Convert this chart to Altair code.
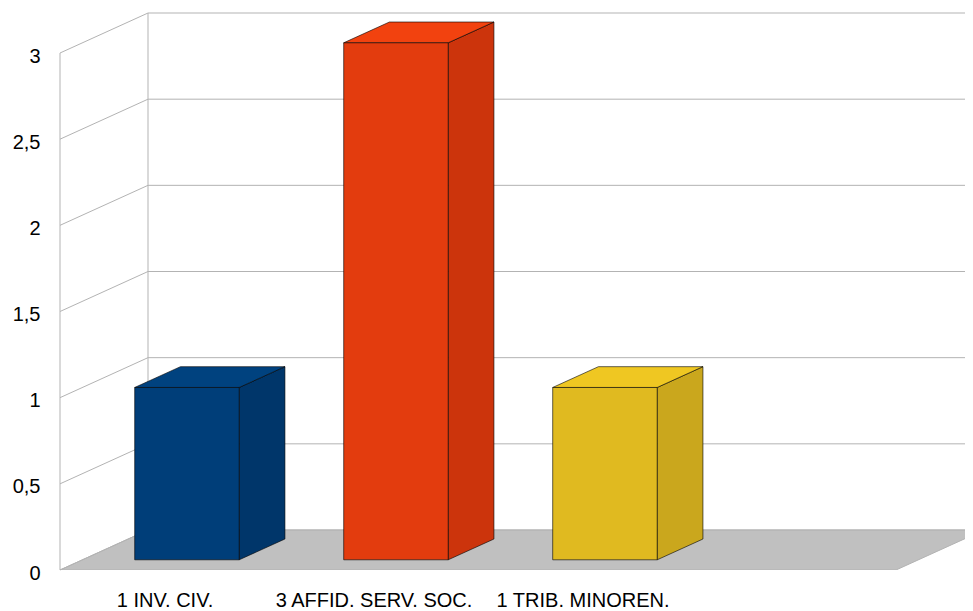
import json
import altair as alt
import pandas as pd

# ---- data ----
categories = ["1 INV. CIV.", "3 AFFID. SERV. SOC.", "1 TRIB. MINOREN."]
values = [1, 3, 1]
y_ticks = [0, 0.5, 1, 1.5, 2, 2.5, 3]
n_slots = 4  # the category axis has room for four slots (last one empty)

# ---- colours (front / side / top faces) ----
front_colors = ["#003e79", "#e33c0e", "#e0ba20"]
side_colors = ["#00366a", "#cc340c", "#caa71d"]
top_colors = ["#00427f", "#f2420f", "#efc722"]
grid_color = "#b3b3b3"
floor_color = "#c0c0c0"

# ---- 3D geometry (style constants, in data units) ----
PX_PER_U = 209.0          # one category slot
PX_PER_V = 172.33         # one value unit
DX = 88 / PX_PER_U        # depth vector, x part
DY = 40 / PX_PER_V        # depth vector, y part
D0, D1 = 0.255, 0.775     # bar front / back depth
BAR_W = 0.5
PLOT_W, PLOT_H = 905, 562
X_MAX = PLOT_W / PX_PER_U
Y_MAX = PLOT_H / PX_PER_V
FONT = "Liberation Sans"

xscale = alt.Scale(domain=[0, X_MAX], nice=False, zero=False)
yscale = alt.Scale(domain=[0, Y_MAX], nice=False, zero=False)
label_expr_x = json.dumps(categories) + "[floor(datum.value)]"
xaxis = alt.Axis(values=[i + 0.5 for i in range(len(categories))], labelExpr=label_expr_x,
                 grid=False, domain=False, ticks=False, title=None, labelFont=FONT,
                 labelFontSize=20, labelColor="#000000", labelPadding=20, labelFlush=False,
                 labelOverlap=False, labelBaseline="top", labelLimit=0)
yaxis = alt.Axis(values=y_ticks, labelExpr="replace(toString(datum.value), '.', ',')",
                 grid=False, domain=False, ticks=False, title=None, labelFont=FONT,
                 labelFontSize=20, labelColor="#000000", labelPadding=20,
                 minExtent=52, maxExtent=52, labelOffset=3)


def X(f):
    return alt.X(f, type="quantitative", scale=xscale, axis=xaxis, title=None)


def Y(f):
    return alt.Y(f, type="quantitative", scale=yscale, axis=yaxis, title=None)


# ---- derived geometry tables ----
front_rows, side_rows, top_rows = [], [], []
for i, (c, v) in enumerate(zip(categories, values)):
    xl = i + 0.5 - BAR_W / 2 + D0 * DX
    xr = xl + BAR_W
    sx = (D1 - D0) * DX
    front_rows.append(dict(cat=c, x=xl, x2=xr, y=D0 * DY, y2=v + D0 * DY, fill=front_colors[i]))
    side_rows.append(dict(cat=c, x=xr, y=D0 * DY, y2=v + D0 * DY, fill=side_colors[i]))
    side_rows.append(dict(cat=c, x=xr + sx, y=D1 * DY, y2=v + D1 * DY, fill=side_colors[i]))
    top_rows.append(dict(cat=c, y=v + D0 * DY, x=xl, x2=xr, fill=top_colors[i]))
    top_rows.append(dict(cat=c, y=v + D1 * DY, x=xl + sx, x2=xr + sx, fill=top_colors[i]))

floor_df = pd.DataFrame([dict(y=0, x=0, x2=n_slots), dict(y=DY, x=DX, x2=n_slots + DX)])
back_grid = pd.DataFrame([dict(x=DX, x2=X_MAX, y=t + DY, y2=t + DY) for t in y_ticks])
diag = pd.DataFrame([dict(x=0, x2=DX, y=t, y2=t + DY) for t in y_ticks])
verticals = pd.DataFrame([dict(x=0, x2=0, y=0, y2=max(y_ticks)),
                          dict(x=DX, x2=DX, y=DY, y2=max(y_ticks) + DY)])

floor = alt.Chart(floor_df).mark_area(orient="horizontal", fill=floor_color, stroke=grid_color,
                                      strokeWidth=1, clip=True).encode(
    y=Y("y"), x=X("x"), x2="x2")
grid_back = alt.Chart(back_grid).mark_rule(color=grid_color, strokeWidth=1, clip=True).encode(
    x=X("x"), x2="x2", y=Y("y"), y2="y2")
grid_diag = alt.Chart(diag).mark_rule(color=grid_color, strokeWidth=1).encode(
    x=X("x"), x2="x2", y=Y("y"), y2="y2")
walls = alt.Chart(verticals).mark_rule(color=grid_color, strokeWidth=1).encode(
    x=X("x"), x2="x2", y=Y("y"), y2="y2")

stroke_kw = dict(stroke="#000000", strokeOpacity=0.6, strokeWidth=1)
sides = alt.Chart(pd.DataFrame(side_rows)).mark_area(orient="vertical", **stroke_kw).encode(
    x=X("x"), y=Y("y"), y2="y2", detail="cat:N", fill=alt.Fill("fill:N", scale=None))
tops = alt.Chart(pd.DataFrame(top_rows)).mark_area(orient="horizontal", **stroke_kw).encode(
    y=Y("y"), x=X("x"), x2="x2", detail="cat:N", fill=alt.Fill("fill:N", scale=None))
fronts = alt.Chart(pd.DataFrame(front_rows)).mark_rect(**stroke_kw).encode(
    x=X("x"), x2="x2", y=Y("y"), y2="y2", fill=alt.Fill("fill:N", scale=None))

chart = alt.layer(floor, grid_back, grid_diag, walls, sides, tops, fronts).properties(
    width=PLOT_W, height=PLOT_H, padding=0, background="white"
).configure_view(stroke="transparent", strokeWidth=0)

chart.save("out.html", embed_options={"renderer": "svg", "actions": False})
